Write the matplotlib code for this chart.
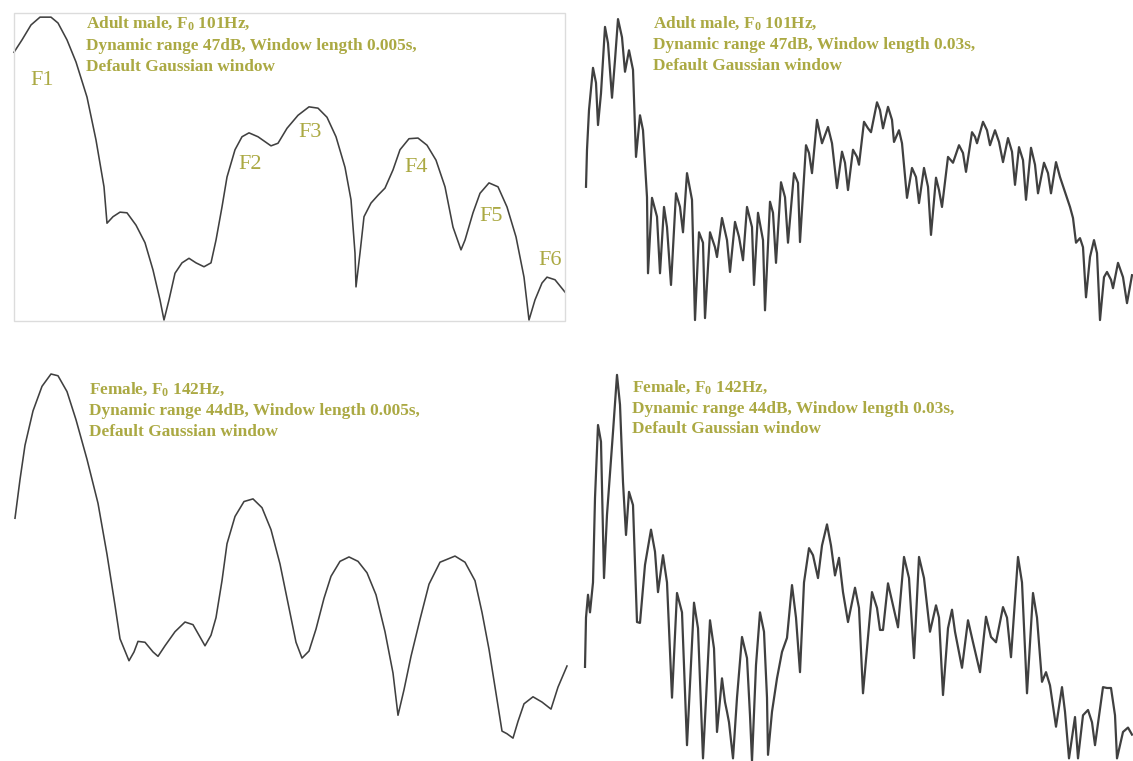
import matplotlib
matplotlib.use("Agg")
import matplotlib.pyplot as plt
from matplotlib.patches import Rectangle

W, H = 1133, 761

# ---- spectra: frequency (Hz) and level (dB above floor) ----
male_wide_hz = [0, 80, 170, 260, 370, 440, 530, 620, 730, 820, 900, 930, 990, 1060, 1130,
                1220, 1310, 1390, 1460, 1500, 1550, 1610, 1680, 1750, 1820, 1900, 1970,
                2020, 2080, 2130, 2210, 2280, 2350, 2440, 2570, 2640, 2730, 2840, 2950,
                3040, 3130, 3220, 3310, 3370, 3410, 3420, 3460, 3500, 3570, 3640, 3710,
                3790, 3860, 3950, 4040, 4130, 4220, 4310, 4390, 4470, 4510, 4590, 4660,
                4750, 4840, 4930, 5020, 5100, 5150, 5210, 5280, 5330, 5410, 5510]
male_wide_db = [41.5, 43.4, 45.7, 46.9, 46.9, 46.0, 43.4, 40.0, 34.6, 28.0, 20.8, 15.2,
                16.2, 16.9, 16.8, 14.9, 12.2, 8.0, 3.4, 0.3, 3.4, 7.5, 9.1, 9.8, 9.1, 8.5,
                9.1, 12.6, 17.7, 22.3, 26.5, 28.5, 29.1, 28.5, 27.1, 27.5, 29.8, 31.8,
                33.1, 32.9, 31.5, 28.5, 23.8, 18.8, 10.6, 5.4, 10.6, 16.2, 18.3, 19.5,
                20.6, 23.4, 26.5, 28.2, 28.3, 27.2, 24.9, 20.8, 14.6, 11.1, 12.6, 16.8,
                19.8, 21.4, 20.8, 17.7, 13.1, 6.9, 0.3, 3.4, 6.0, 6.9, 6.5, 4.6]

male_narrow_hz = [30, 40, 60, 100, 130, 150, 180, 220, 250, 290, 320, 350, 390, 420, 460,
                  500, 530, 570, 600, 640, 650, 690, 740, 770, 810, 840, 880, 930, 970,
                  1000, 1040, 1090, 1120, 1160, 1200, 1220, 1270, 1320, 1340, 1390, 1440,
                  1470, 1520, 1560, 1600, 1640, 1690, 1710, 1750, 1800, 1820, 1870, 1900,
                  1930, 1980, 2020, 2050, 2110, 2150, 2170, 2230, 2260, 2290, 2340, 2390,
                  2450, 2490, 2540, 2590, 2620, 2650, 2700, 2740, 2760, 2810, 2850, 2880,
                  2940, 2970, 3000, 3050, 3090, 3110, 3160, 3190, 3240, 3290, 3330, 3360,
                  3410, 3450, 3480, 3530, 3560, 3590, 3650, 3700, 3760, 3800, 3830, 3890,
                  3920, 3940, 4000, 4040, 4070, 4120, 4160, 4200, 4250, 4290, 4320, 4360,
                  4400, 4430, 4480, 4520, 4550, 4610, 4650, 4680, 4730, 4770, 4820, 4870,
                  4900, 4930, 4970, 5000, 5030, 5070, 5110, 5140, 5170, 5210, 5240, 5280,
                  5300, 5350, 5400, 5440, 5490]
male_narrow_db = [20.8, 26.5, 32.6, 39.1, 36.8, 30.3, 35.2, 45.4, 42.9, 34.5, 40.3, 46.6,
                  43.8, 38.5, 41.8, 38.8, 25.4, 31.8, 29.5, 19.2, 7.5, 19.1, 16.2, 7.5,
                  17.7, 14.6, 5.7, 19.8, 17.7, 13.8, 22.9, 18.8, 0.3, 13.8, 12.2, 0.6,
                  13.8, 11.5, 10.0, 16.0, 12.6, 7.7, 15.4, 13.1, 9.5, 17.7, 14.6, 5.7,
                  16.8, 12.6, 1.8, 18.5, 16.8, 9.1, 21.5, 19.2, 12.2, 22.9, 21.4, 12.3,
                  27.2, 26.0, 22.9, 31.1, 27.5, 30.0, 27.5, 20.6, 26.2, 24.5, 20.3, 26.5,
                  25.4, 24.2, 30.8, 29.8, 29.2, 33.8, 32.6, 29.8, 33.1, 31.1, 27.7, 29.5,
                  27.5, 19.1, 23.7, 22.3, 18.3, 23.7, 20.8, 13.4, 22.2, 20.3, 17.7, 25.4,
                  24.5, 27.2, 26.0, 23.1, 29.2, 28.5, 27.5, 30.8, 29.5, 27.2, 29.5, 27.7,
                  24.6, 28.3, 26.2, 21.1, 26.9, 24.9, 18.8, 26.8, 24.2, 19.8, 24.5, 22.9,
                  19.8, 24.6, 22.3, 20.0, 17.7, 16.0, 12.2, 12.9, 11.5, 3.8, 10.0, 12.6,
                  10.6, 0.3, 6.9, 7.7, 6.5, 5.2, 9.1, 6.9, 2.9, 7.2]

female_wide_hz = [0, 50, 100, 180, 270, 360, 430, 520, 610, 720, 830, 920, 1000, 1050,
                  1140, 1190, 1230, 1300, 1380, 1430, 1500, 1600, 1700, 1780, 1850, 1900,
                  1960, 2010, 2070, 2120, 2200, 2290, 2380, 2470, 2560, 2650, 2740, 2810,
                  2870, 2940, 3010, 3090, 3160, 3250, 3340, 3430, 3520, 3610, 3700, 3780,
                  3830, 3890, 3960, 4050, 4140, 4250, 4400, 4500, 4600, 4670, 4740, 4810,
                  4870, 4920, 4980, 5030, 5090, 5180, 5270, 5360, 5430, 5520]
female_wide_db = [27.6, 32.0, 35.9, 39.8, 42.6, 44.0, 43.8, 42.0, 38.8, 34.3, 29.3, 23.5,
                  17.7, 13.9, 11.4, 12.4, 13.6, 13.5, 12.4, 11.9, 13.1, 14.7, 15.8, 15.5,
                  14.1, 13.1, 14.3, 16.3, 20.5, 24.7, 27.8, 29.5, 29.8, 28.8, 26.3, 22.4,
                  17.4, 13.5, 11.7, 12.5, 15.0, 18.5, 21.0, 22.7, 23.2, 22.7, 21.4, 18.9,
                  14.7, 10.0, 5.2, 8.1, 11.9, 16.1, 20.1, 22.6, 23.3, 22.6, 20.5, 16.9,
                  12.7, 7.7, 3.4, 3.1, 2.6, 4.5, 6.5, 7.3, 6.7, 5.9, 8.4, 10.8]

female_narrow_hz = [20, 30, 50, 70, 100, 120, 150, 180, 210, 240, 300, 340, 370, 400, 430,
                    460, 500, 540, 570, 620, 680, 720, 750, 800, 840, 890, 940, 990, 1040,
                    1110, 1150, 1200, 1270, 1310, 1340, 1390, 1420, 1440, 1460, 1500, 1540,
                    1590, 1640, 1670, 1690, 1730, 1770, 1810, 1840, 1850, 1890, 1940, 1990,
                    2040, 2090, 2130, 2170, 2210, 2260, 2300, 2350, 2390, 2440, 2480, 2520,
                    2560, 2600, 2650, 2720, 2760, 2800, 2840, 2890, 2940, 2970, 3000, 3050,
                    3100, 3150, 3210, 3260, 3310, 3360, 3410, 3470, 3530, 3560, 3600, 3650,
                    3690, 3720, 3790, 3850, 3900, 3970, 4030, 4080, 4130, 4200, 4240, 4280,
                    4350, 4390, 4440, 4500, 4540, 4590, 4630, 4670, 4730, 4790, 4820, 4860,
                    4920, 4950, 5000, 5050, 5090, 5120, 5200, 5240, 5280, 5320, 5340, 5400,
                    5450, 5490]
female_narrow_db = [10.7, 16.3, 18.9, 16.9, 20.3, 29.9, 38.2, 36.3, 20.8, 28.0, 37.4, 43.9,
                    40.5, 31.7, 25.7, 30.6, 29.1, 15.8, 15.7, 22.3, 26.3, 23.8, 19.2, 23.4,
                    20.3, 7.2, 19.1, 16.9, 1.8, 18.0, 15.1, 0.3, 16.0, 12.8, 3.3, 9.4, 6.7,
                    5.6, 4.4, 0.3, 7.2, 14.1, 11.7, 5.2, 0.0, 10.9, 16.9, 14.7, 7.2, 0.7,
                    5.6, 9.4, 12.4, 14.0, 20.0, 16.3, 10.1, 20.3, 24.2, 23.4, 20.8, 24.5,
                    26.9, 24.5, 21.1, 23.1, 19.2, 15.8, 19.7, 17.4, 7.7, 12.8, 19.2, 17.4,
                    14.9, 14.9, 20.2, 17.7, 15.2, 23.2, 20.8, 11.7, 23.2, 20.8, 14.7, 17.7,
                    16.3, 7.5, 15.1, 17.2, 14.7, 10.6, 16.0, 13.5, 10.1, 16.4, 14.1, 13.5,
                    17.5, 16.3, 11.8, 23.2, 20.3, 7.7, 19.1, 16.3, 9.0, 10.1, 8.6, 3.9, 8.4,
                    5.6, 0.3, 5.0, 0.3, 5.2, 5.8, 4.4, 1.8, 8.4, 8.3, 8.3, 5.2, 0.3, 3.3,
                    3.8, 3.0]

formant_names = ["F1", "F2", "F3", "F4", "F5", "F6"]

male_caption = ["Adult male, F$_0$ 101Hz,",
                "Dynamic range 47dB, Window length 0.005s,",
                "Default Gaussian window"]
male_caption_n = ["Adult male, F$_0$ 101Hz,",
                  "Dynamic range 47dB, Window length 0.03s,",
                  "Default Gaussian window"]
female_caption = ["Female, F$_0$ 142Hz,",
                  "Dynamic range 44dB, Window length 0.005s,",
                  "Default Gaussian window"]
female_caption_n = ["Female, F$_0$ 142Hz,",
                    "Dynamic range 44dB, Window length 0.03s,",
                    "Default Gaussian window"]

# ---- styling ----
plt.rcParams["mathtext.fontset"] = "custom"
plt.rcParams["mathtext.rm"] = "Liberation Serif:bold"
plt.rcParams["mathtext.it"] = "Liberation Serif:bold:italic"
plt.rcParams["mathtext.bf"] = "Liberation Serif:bold"

TEXT_COLOR = "#aba943"
LINE_COLOR = "#404040"

fig = plt.figure(figsize=(W / 100, H / 100), dpi=100)
fig.patch.set_facecolor("white")


def panel(left, top, width, height, xmax, ymax):
    ax = fig.add_axes([left / W, 1 - (top + height) / H, width / W, height / H])
    ax.set_xlim(0, xmax)
    ax.set_ylim(0, ymax)
    ax.axis("off")
    return ax


def caption(lines, x, baselines):
    for line, y in zip(lines, baselines):
        fig.text(x / W, 1 - y / H, line, family="Liberation Serif", weight="bold",
                 fontsize=12.4, color=TEXT_COLOR, va="baseline", ha="left")


# top-left: broadband male
ax_tl = panel(14, 16.5, 552, 305.5, 5520, 47)
ax_tl.plot(male_wide_hz, male_wide_db, color=LINE_COLOR, lw=1.15,
           solid_joinstyle="round", clip_on=False)
fig.patches.append(Rectangle((14 / W, 1 - 321 / H), 551 / W, 308 / H,
                             transform=fig.transFigure, fill=False,
                             edgecolor="#dcdcdc", lw=1.0))
label_pos = [(280, 37.1), (2360, 24.2), (2960, 29.1), (4020, 23.7), (4770, 16.2), (5360, 9.5)]
for name, (fx, fy) in zip(formant_names, label_pos):
    ax_tl.text(fx, fy, name, family="Liberation Serif", fontsize=16,
               color=TEXT_COLOR, ha="center", va="center")
caption(male_caption, 86, [28, 49.5, 71])

# top-right: narrowband male
ax_tr = panel(583, 16.5, 550, 305.5, 5500, 47)
ax_tr.plot(male_narrow_hz, male_narrow_db, color=LINE_COLOR, lw=1.6,
           solid_joinstyle="round", clip_on=False)
caption(male_caption_n, 653, [28, 49, 70])

# bottom-left: broadband female
ax_bl = panel(15, 374, 552, 387, 5520, 44)
ax_bl.plot(female_wide_hz, female_wide_db, color=LINE_COLOR, lw=1.15,
           solid_joinstyle="round", clip_on=False)
caption(female_caption, 89, [394, 415, 436])

# bottom-right: narrowband female
ax_br = panel(583, 374, 550, 387, 5500, 44)
ax_br.plot(female_narrow_hz, female_narrow_db, color=LINE_COLOR, lw=1.6,
           solid_joinstyle="round", clip_on=False)
caption(female_caption_n, 632, [392, 413, 433])

fig.savefig("out.png", dpi=100, facecolor="white")
